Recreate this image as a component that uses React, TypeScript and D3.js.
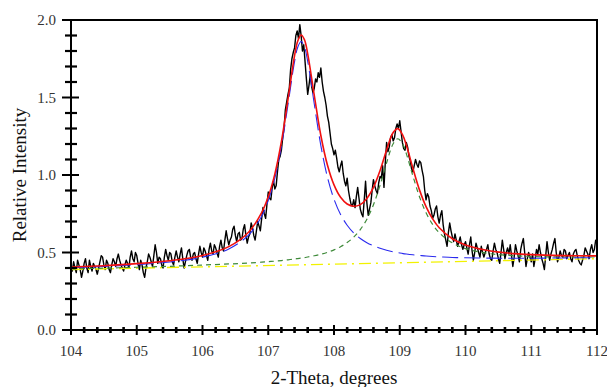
import React from "react";
import * as d3 from "d3";

// Measured (noisy) diffraction profile, 2-theta from 104 to 112 in 0.02 degree steps
const thetaStart = 104;
const thetaStep = 0.02;
const intensity: number[] = [
  0.41, 0.38, 0.44, 0.40, 0.37, 0.45, 0.42, 0.39, 0.34, 0.38, 0.43, 0.46, 0.40, 0.37, 0.45, 0.41, 0.38, 0.43, 0.41, 0.39,
  0.36, 0.40, 0.44, 0.48, 0.47, 0.42, 0.39, 0.45, 0.43, 0.39, 0.37, 0.42, 0.46, 0.44, 0.41, 0.46, 0.49, 0.45, 0.42, 0.40,
  0.38, 0.42, 0.45, 0.43, 0.40, 0.47, 0.51, 0.46, 0.44, 0.50, 0.48, 0.43, 0.39, 0.45, 0.42, 0.37, 0.34, 0.40, 0.44, 0.49,
  0.47, 0.44, 0.41, 0.48, 0.55, 0.50, 0.43, 0.47, 0.46, 0.42, 0.40, 0.47, 0.52, 0.48, 0.45, 0.50, 0.49, 0.44, 0.42, 0.47,
  0.51, 0.47, 0.44, 0.49, 0.53, 0.46, 0.40, 0.44, 0.48, 0.51, 0.52, 0.47, 0.45, 0.49, 0.50, 0.46, 0.43, 0.49, 0.54, 0.50,
  0.47, 0.53, 0.51, 0.48, 0.45, 0.52, 0.56, 0.51, 0.49, 0.55, 0.53, 0.50, 0.47, 0.54, 0.58, 0.53, 0.51, 0.58, 0.64, 0.59,
  0.55, 0.58, 0.60, 0.65, 0.67, 0.61, 0.57, 0.62, 0.63, 0.58, 0.59, 0.65, 0.68, 0.61, 0.56, 0.60, 0.62, 0.69, 0.66, 0.61,
  0.58, 0.64, 0.70, 0.67, 0.64, 0.72, 0.79, 0.75, 0.72, 0.81, 0.89, 0.85, 0.84, 0.92, 0.96, 0.91, 0.93, 1.02, 1.10, 1.12,
  1.16, 1.24, 1.30, 1.42, 1.47, 1.52, 1.56, 1.68, 1.75, 1.79, 1.82, 1.90, 1.93, 1.88, 1.97, 1.90, 1.80, 1.84, 1.73, 1.62,
  1.52, 1.58, 1.65, 1.57, 1.53, 1.56, 1.62, 1.60, 1.66, 1.63, 1.69, 1.60, 1.54, 1.50, 1.45, 1.38, 1.34, 1.27, 1.20, 1.17,
  1.13, 1.16, 1.11, 1.05, 1.02, 1.06, 1.09, 1.01, 0.96, 0.93, 0.98, 0.90, 0.85, 0.81, 0.80, 0.84, 0.79, 0.86, 0.92, 0.85,
  0.78, 0.75, 0.73, 0.84, 0.96, 0.82, 0.74, 0.78, 0.82, 0.90, 0.97, 0.93, 0.90, 0.88, 0.95, 0.99, 0.98, 1.06, 0.92, 1.08,
  1.21, 1.15, 1.18, 1.24, 1.26, 1.22, 1.24, 1.30, 1.33, 1.30, 1.35, 1.28, 1.21, 1.17, 1.16, 1.21, 1.18, 1.12, 1.09, 1.04,
  1.02, 1.06, 1.10, 1.07, 1.05, 1.09, 1.08, 1.03, 0.99, 0.90, 0.84, 0.88, 0.86, 0.80, 0.77, 0.72, 0.74, 0.78, 0.80, 0.73,
  0.69, 0.74, 0.77, 0.68, 0.62, 0.58, 0.54, 0.63, 0.69, 0.64, 0.60, 0.57, 0.62, 0.58, 0.54, 0.57, 0.60, 0.55, 0.52, 0.55,
  0.57, 0.53, 0.49, 0.55, 0.60, 0.51, 0.45, 0.50, 0.56, 0.53, 0.50, 0.47, 0.54, 0.50, 0.47, 0.50, 0.52, 0.55, 0.49, 0.46,
  0.45, 0.51, 0.56, 0.52, 0.50, 0.46, 0.43, 0.50, 0.58, 0.52, 0.46, 0.50, 0.53, 0.49, 0.55, 0.48, 0.41, 0.47, 0.55, 0.51,
  0.48, 0.44, 0.52, 0.56, 0.59, 0.50, 0.41, 0.46, 0.50, 0.47, 0.44, 0.49, 0.41, 0.46, 0.52, 0.49, 0.55, 0.50, 0.46, 0.43,
  0.39, 0.48, 0.57, 0.50, 0.45, 0.49, 0.52, 0.56, 0.59, 0.50, 0.44, 0.47, 0.51, 0.48, 0.47, 0.52, 0.51, 0.46, 0.48, 0.50,
  0.46, 0.44, 0.49, 0.51, 0.52, 0.48, 0.45, 0.43, 0.42, 0.45, 0.48, 0.53, 0.51, 0.49, 0.46, 0.52, 0.55, 0.50, 0.52, 0.58,
  0.56,
];

// Fitted curves sampled at these 2-theta positions
const fitTheta: number[] = [
  104, 104.5, 105, 105.5, 106, 106.4, 106.7, 106.9, 107.0, 107.1,
  107.2, 107.3, 107.4, 107.45, 107.5, 107.55, 107.6, 107.7, 107.8, 107.9,
  108.0, 108.1, 108.2, 108.3, 108.4, 108.5, 108.6, 108.7, 108.8, 108.9,
  108.97, 109.05, 109.1, 109.2, 109.3, 109.4, 109.5, 109.6, 109.8, 110.0,
  110.3, 110.6, 111.0, 111.5, 112,
];
const fitTotal: number[] = [
  0.406, 0.415, 0.428, 0.447, 0.481, 0.538, 0.631, 0.757, 0.859, 1.006,
  1.215, 1.488, 1.770, 1.866, 1.903, 1.873, 1.782, 1.514, 1.255, 1.064,
  0.936, 0.856, 0.813, 0.798, 0.809, 0.849, 0.920, 1.028, 1.162, 1.274,
  1.299, 1.253, 1.193, 1.044, 0.904, 0.796, 0.717, 0.660, 0.589, 0.549,
  0.516, 0.498, 0.486, 0.480, 0.478,
];
const peak1: number[] = [
  0.402, 0.410, 0.422, 0.439, 0.470, 0.523, 0.612, 0.734, 0.835, 0.979,
  1.184, 1.454, 1.732, 1.826, 1.861, 1.827, 1.733, 1.458, 1.190, 0.986,
  0.844, 0.745, 0.676, 0.626, 0.590, 0.563, 0.543, 0.527, 0.514, 0.504,
  0.499, 0.493, 0.490, 0.485, 0.481, 0.477, 0.474, 0.472, 0.468, 0.466,
  0.464, 0.463, 0.463, 0.465, 0.467,
];
const peak2: number[] = [
  0.394, 0.399, 0.405, 0.411, 0.419, 0.426, 0.432, 0.438, 0.441, 0.444,
  0.448, 0.453, 0.458, 0.461, 0.464, 0.467, 0.471, 0.479, 0.489, 0.501,
  0.517, 0.537, 0.564, 0.599, 0.648, 0.715, 0.808, 0.933, 1.079, 1.202,
  1.234, 1.195, 1.138, 0.994, 0.860, 0.756, 0.681, 0.628, 0.562, 0.525,
  0.497, 0.483, 0.474, 0.471, 0.471,
];
const backgroundTheta: number[] = [104, 112];
const background: number[] = [0.39, 0.46];

const xTickLabels: string[] = ["104", "105", "106", "107", "108", "109", "110", "111", "112"];
const yTickLabels: string[] = ["0.0", "0.5", "1.0", "1.5", "2.0"];

const W = 607;
const H = 387;
const left = 71;
const right = 597;
const top = 20;
const bottom = 330;

export default function App() {
  const x = d3.scaleLinear().domain([104, 112]).range([left, right]);
  const y = d3.scaleLinear().domain([0, 2]).range([bottom, top]);

  const dataPts: [number, number][] = intensity.map((v, i) => [thetaStart + i * thetaStep, v]);
  const raw = d3
    .line<[number, number]>()
    .x((d) => x(d[0]))
    .y((d) => y(d[1]));
  const smooth = d3
    .line<[number, number]>()
    .x((d) => x(d[0]))
    .y((d) => y(d[1]))
    .curve(d3.curveCatmullRom.alpha(0.5));

  const zip = (xs: number[], ys: number[]) => xs.map((t, i) => [t, ys[i]] as [number, number]);

  const xMinor = d3.range(0, 41).map((i) => 104 + i * 0.2).filter((_, i) => i % 5 !== 0);
  const yMinor = d3.range(0, 21).map((i) => i * 0.1).filter((_, i) => i % 5 !== 0);

  const serif = "'Liberation Serif', 'DejaVu Serif', Times, serif";

  return (
    <svg width={W} height={H} style={{ position: "absolute", left: 0, top: 0 }}>
      <rect width={W} height={H} fill="#fff" />
      <defs>
        <clipPath id="plotClip">
          <rect x={left} y={top} width={right - left} height={bottom - top} />
        </clipPath>
      </defs>
      <g clipPath="url(#plotClip)">
        <path d={raw(dataPts) || ""} fill="none" stroke="#000" strokeWidth={1.4} strokeLinejoin="round" />
        <path
          d={raw(zip(backgroundTheta, background)) || ""}
          fill="none"
          stroke="#f2f200"
          strokeWidth={1.4}
          strokeDasharray="12,5,2,5"
        />
        <path
          d={smooth(zip(fitTheta, peak2)) || ""}
          fill="none"
          stroke="#3f8a3a"
          strokeWidth={1.2}
          strokeDasharray="5,4"
        />
        <path
          d={smooth(zip(fitTheta, peak1)) || ""}
          fill="none"
          stroke="#2a2aee"
          strokeWidth={1.1}
          strokeDasharray="16,6"
        />
        <path d={smooth(zip(fitTheta, fitTotal)) || ""} fill="none" stroke="#f01010" strokeWidth={1.6} />
      </g>

      {/* frame */}
      <rect x={left} y={top} width={right - left} height={bottom - top} fill="none" stroke="#000" strokeWidth={2} />

      {/* y ticks */}
      {yTickLabels.map((lab) => {
        const v = +lab;
        return (
          <g key={"yt" + lab}>
            <line x1={left - 9} x2={left + 8} y1={y(v)} y2={y(v)} stroke="#000" strokeWidth={2} />
            <text
              x={left - 15}
              y={y(v)}
              dy="0.35em"
              textAnchor="end"
              fontFamily={serif}
              fontSize={15}
              fill="#333"
            >
              {lab}
            </text>
          </g>
        );
      })}
      {yMinor.map((v) => (
        <line key={"ym" + v} x1={left - 6} x2={left + 6} y1={y(v)} y2={y(v)} stroke="#000" strokeWidth={2.2} />
      ))}

      {/* x ticks */}
      {xTickLabels.map((lab) => {
        const v = +lab;
        return (
          <g key={"xt" + lab}>
            <line x1={x(v)} x2={x(v)} y1={bottom - 5} y2={bottom + 5} stroke="#000" strokeWidth={2} />
            <text
              x={x(v)}
              y={bottom + 26}
              textAnchor="middle"
              fontFamily={serif}
              fontSize={15}
              fill="#333"
            >
              {lab}
            </text>
          </g>
        );
      })}
      {xMinor.map((v) => (
        <line key={"xm" + v.toFixed(1)} x1={x(v)} x2={x(v)} y1={bottom - 3} y2={bottom + 3} stroke="#000" strokeWidth={2.6} />
      ))}

      {/* axis titles */}
      <text x={(left + right) / 2} y={384} textAnchor="middle" fontFamily={serif} fontSize={19} fill="#111">
        2-Theta, degrees
      </text>
      <text
        transform={`translate(26, ${(top + bottom) / 2}) rotate(-90)`}
        textAnchor="middle"
        fontFamily={serif}
        fontSize={19}
        fill="#111"
      >
        Relative Intensity
      </text>
    </svg>
  );
}
